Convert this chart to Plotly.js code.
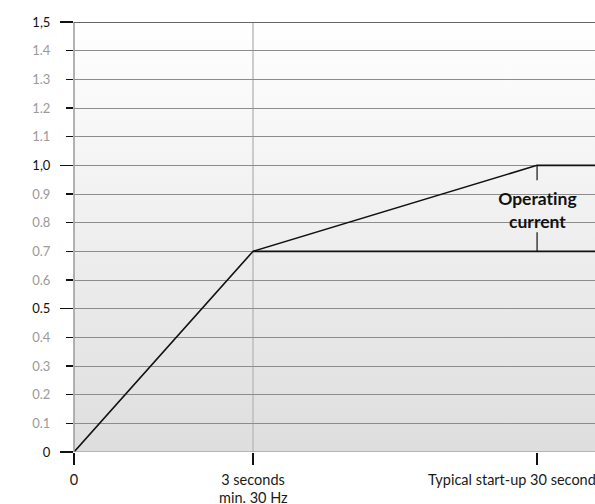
<!DOCTYPE html>
<html>
<head>
<meta charset="utf-8">
<script src="https://cdn.plot.ly/plotly-3.0.1.min.js"></script>
<style>
html,body{margin:0;padding:0;background:#fff;overflow:hidden;}
#wrap{position:relative;width:595px;height:504px;}
#bg{position:absolute;left:74px;top:21.5px;width:521px;height:430.5px;
  background:linear-gradient(to bottom,#ffffff 0%,#dedede 100%);z-index:0;}
#chart{position:absolute;left:0;top:0;width:595px;height:504px;z-index:1;}
#chart text{font-variant-ligatures:none;font-feature-settings:"liga" 0;}
</style>
</head>
<body>
<div id="wrap"><div id="bg"></div><div id="chart"></div></div>
<script>
// Category positions along the x axis (positional units, not to scale in seconds)
var xTickPos = [0, 1, 2.587];
var xTickLabels = ["0", "3 seconds", ""];
var xSubLabel = "min. 30 Hz";                      // second line under "3 seconds"
var xFarLabel = "Typical start-up 30 seconds";     // label at the third tick

// Upper curve: start current ramp
var upperX = [0, 1, 2.587, 3.2];
var upperY = [0, 0.7, 1.0, 1.0];
// Lower line: minimum level
var lowerX = [1, 3.2];
var lowerY = [0.7, 0.7];

// y ticks
var yMajor = [0, 0.5, 1.0, 1.5];
var yMajorLabels = ["0", "0.5", "1,0", "1,5"];
var yMinor = [0.1, 0.2, 0.3, 0.4, 0.6, 0.7, 0.8, 0.9, 1.1, 1.2, 1.3, 1.4];
var yMinorLabels = ["0.1", "0.2", "0.3", "0.4", "0.6", "0.7", "0.8", "0.9", "1.1", "1.2", "1.3", "1.4"];

// Operating current annotation marker
var opX = 2.587;
var opTop = [1.0, 0.948];
var opBottom = [0.767, 0.7];
var opLabelY = 0.845;

var xMax = (595 - 74) / 179;
var yMin = 0, yMax = 1.5;

var allVals = [], allText = [];
yMajor.forEach(function (v, i) { allVals.push(v); allText.push('<span style="color:#111">' + yMajorLabels[i] + '</span>'); });
yMinor.forEach(function (v, i) { allVals.push(v); allText.push('<span style="color:#9a9a9a">' + yMinorLabels[i] + '</span>'); });

var fam = "Lato, Open Sans, sans-serif";
var xFontSize = 14.5;

var traces = [
  {
    x: upperX, y: upperY, mode: "lines",
    line: {color: "#111", width: 1.6}, showlegend: false
  },
  {
    x: lowerX, y: lowerY, mode: "lines",
    line: {color: "#111", width: 1.6}, showlegend: false
  },
  {
    x: [opX, opX], y: opTop, mode: "lines",
    line: {color: "#111", width: 1.2}, showlegend: false
  },
  {
    x: [opX, opX], y: opBottom, mode: "lines",
    line: {color: "#111", width: 1.2}, showlegend: false
  },
  { // invisible trace for major tick axis
    x: [0], y: [0], yaxis: "y2", mode: "markers", marker: {opacity: 0},
    hoverinfo: "skip", showlegend: false
  }
];

var layout = {
  width: 595, height: 504,
  margin: {l: 74, r: 0, t: 21.5, b: 52, pad: 0},
  paper_bgcolor: "rgba(0,0,0,0)",
  plot_bgcolor: "rgba(0,0,0,0)",
  font: {family: fam, size: 13, color: "#1a1a1a"},
  xaxis: {
    range: [0, xMax], fixedrange: true,
    tickmode: "array", tickvals: xTickPos, ticktext: xTickLabels,
    ticks: "outside", ticklen: 12, tickcolor: "#111", tickwidth: 1.5,
    showgrid: false, zeroline: false, showline: false,
    ticklabelstandoff: 3, ticklabeloverflow: "allow",
    tickfont: {family: fam, size: xFontSize, color: "#1a1a1a"}
  },
  yaxis: {
    range: [yMin, yMax], fixedrange: true,
    tickmode: "array", tickvals: allVals, ticktext: allText,
    ticks: "outside", ticklen: 7, tickcolor: "#111", tickwidth: 1.5,
    showgrid: true, gridcolor: "#8c8c8c", gridwidth: 1,
    zeroline: false, showline: false,
    ticklabelstandoff: 13,
    tickfont: {family: fam, size: 13}
  },
  yaxis2: {
    overlaying: "y", side: "left", range: [yMin, yMax], fixedrange: true,
    tickmode: "array", tickvals: yMajor,
    ticks: "outside", ticklen: 13, tickcolor: "#111", tickwidth: 1.5,
    showticklabels: false, showgrid: false, zeroline: false, showline: false
  },
  shapes: [
    { // vertical guide at 3 seconds
      type: "line", xref: "x", yref: "paper", x0: xTickPos[1], x1: xTickPos[1], y0: 0, y1: 1,
      line: {color: "#bdbdbd", width: 1.5}, layer: "below"
    },
    { // left axis line
      type: "line", xref: "paper", yref: "paper", x0: 0, x1: 0, y0: 0, y1: 1,
      line: {color: "#9a9a9a", width: 1.5}
    },
    { // top border
      type: "line", xref: "paper", yref: "y", x0: 0, x1: 1, y0: yMax, y1: yMax,
      line: {color: "#666", width: 2}
    },
    { // bottom line
      type: "line", xref: "paper", yref: "y", x0: 0, x1: 1, y0: yMin, y1: yMin,
      line: {color: "#8c8c8c", width: 1.2}
    }
  ],
  annotations: [
    {
      x: opX, y: opLabelY, xref: "x", yref: "y", showarrow: false,
      text: "<b>Operating<br>current</b>",
      font: {family: fam, size: 17.5, color: "#111"},
      align: "center", xanchor: "center", yanchor: "middle"
    },
    {
      x: xTickPos[1], y: 0, xref: "x", yref: "paper", showarrow: false,
      text: xSubLabel, font: {family: fam, size: xFontSize, color: "#1a1a1a"},
      xanchor: "center", yanchor: "middle", yshift: -45.5, borderpad: 0
    },
    {
      x: xTickPos[2], y: 0, xref: "x", yref: "paper", showarrow: false,
      text: xFarLabel, font: {family: fam, size: xFontSize, color: "#1a1a1a"},
      xanchor: "left", yanchor: "middle", xshift: -111, yshift: -27
    }
  ]
};

Plotly.newPlot("chart", traces, layout, {displayModeBar: false, staticPlot: true});
</script>
</body>
</html>
